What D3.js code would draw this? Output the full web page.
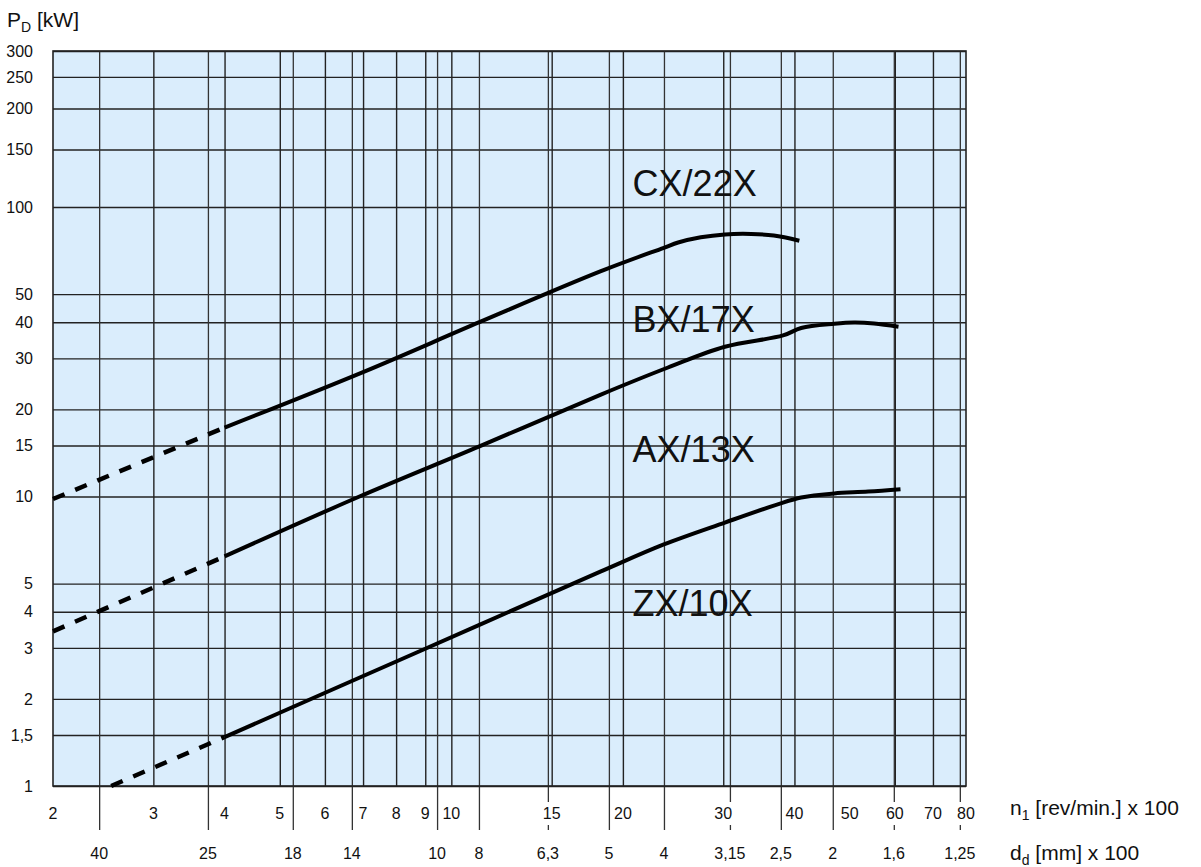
<!DOCTYPE html>
<html>
<head>
<meta charset="utf-8">
<script src="https://cdn.jsdelivr.net/npm/d3@7"></script>
<style>
  body { margin: 0; background: #fff; }
  text { font-family: "Liberation Sans", Arial, sans-serif; fill: #111; }
  .grid line { stroke: #222; stroke-width: 1.4; }
  .dgrid line { stroke: #333; stroke-width: 1.3; }
</style>
</head>
<body>
<div id="chart"></div>
<script>
// tick values
let pTicks = [300, 250, 200, 150, 100, 50, 40, 30, 20, 15, 10, 5, 4, 3, 2, 1.5, 1];
let nTicks = [2, 3, 4, 5, 6, 7, 8, 9, 10, 15, 20, 30, 40, 50, 60, 70, 80];
let nGrid = [3, 4, 5, 6, 7, 8, 9, 10, 15, 20, 30, 40, 60, 70];
// pulley diameter ticks and the n1 value each one sits at
let dLabels = ["40", "25", "18", "14", "10", "8", "6,3", "5", "4", "3,15", "2,5", "2", "1,6", "1,25"];
let dAtN = [2.41, 3.74, 5.27, 6.69, 9.44, 11.18, 14.77, 18.9, 23.61, 30.82, 37.86, 46.7, 59.76, 78.03];

// curves as [n1, P]
let cxDash = [[2, 9.8], [4, 17.3]];
let cxLine = [[4, 17.3], [7, 26.9], [11.2, 40], [18.3, 60], [23.6, 72.3], [25.0, 75.4], [27.4, 78.6],
              [30.2, 80.4], [33.6, 80.7], [36.8, 79.7], [40.8, 76.5]];
let bxDash = [[2, 3.42], [4, 6.21]];
let bxLine = [[4, 6.21], [6.9, 10.0], [11.2, 14.9], [18.3, 22.5], [24.0, 27.9], [30.2, 32.9], [38.2, 36.0],
              [41.1, 38.2], [47.0, 39.5], [50.9, 39.9], [55.2, 39.6], [60.9, 38.6]];
let axDash = [[2.53, 1.0], [4, 1.476]];
let axLine = [[4, 1.476], [9.0, 2.98], [18.3, 5.51], [23.6, 6.83], [30.2, 8.13], [38.2, 9.53], [41.1, 9.92],
              [43.3, 10.08], [47.0, 10.25], [53.9, 10.4], [61.4, 10.6]];

let curveNames = ["CX/22X", "BX/17X", "AX/13X", "ZX/10X"];
let nameAt = [[20.8, 108], [20.8, 37], [20.8, 13.2], [20.8, 3.87]];

let svgWidth = 1201;
let svgHeight = 867;
let margins = { top: 51, right: 235, bottom: 81, left: 53 };
let width = svgWidth - margins.left - margins.right;
let height = svgHeight - margins.top - margins.bottom;

let svg = d3.select("#chart")
    .append("svg")
    .attr("width", svgWidth)
    .attr("height", svgHeight);

let chartGroup = svg.append("g")
    .attr("transform", `translate(${margins.left}, ${margins.top})`);

let xScale = d3.scaleLog().domain([2, 80]).range([0, width]);
// the top decade of the printed grid is drawn a bit stretched
let yScale = d3.scaleLog().domain([1, 100, 300]).range([height, 156, 0]);

let comma = v => String(v).replace(".", ",");

chartGroup.append("rect")
    .attr("width", width)
    .attr("height", height)
    .attr("fill", "#daedfc");

// horizontal grid
chartGroup.append("g")
    .attr("class", "grid")
    .call(d3.axisLeft(yScale).tickValues(pTicks).tickSize(-width).tickFormat(""))
    .call(g => g.select(".domain").remove());

// vertical n1 grid
chartGroup.append("g")
    .attr("class", "grid")
    .call(d3.axisBottom(xScale).tickValues(nGrid).tickSize(height).tickFormat(""))
    .call(g => g.select(".domain").remove());

// d_d lines run through the plot and down to the second scale
chartGroup.append("g")
    .attr("class", "dgrid")
    .call(d3.axisBottom(xScale).tickValues(dAtN).tickSize(height + 44).tickFormat(""))
    .call(g => g.select(".domain").remove());

chartGroup.append("rect")
    .attr("width", width)
    .attr("height", height)
    .attr("fill", "none")
    .attr("stroke", "#222")
    .attr("stroke-width", 1.6);

// y labels
chartGroup.selectAll(".ylab")
    .data(pTicks)
    .enter()
    .append("text")
    .attr("x", -20)
    .attr("y", d => yScale(d))
    .attr("dy", "0.36em")
    .attr("text-anchor", "end")
    .style("font-size", "16px")
    .text(d => comma(d));

// n1 labels with a white box that hides the d_d lines
let nLab = chartGroup.selectAll(".nlab")
    .data(nTicks)
    .enter()
    .append("g");
nLab.append("rect").attr("fill", "#fff");
nLab.append("text")
    .attr("x", d => xScale(d))
    .attr("y", height + 33)
    .attr("text-anchor", "middle")
    .style("font-size", "16px")
    .text(d => d);
nLab.each(function() {
    let b = d3.select(this).select("text").node().getBBox();
    d3.select(this).select("rect")
        .attr("x", b.x - 1).attr("y", height + 16)
        .attr("width", b.width + 2).attr("height", 23);
});

// d_d labels
chartGroup.selectAll(".dlab")
    .data(dLabels)
    .enter()
    .append("text")
    .attr("x", (d, i) => xScale(dAtN[i]))
    .attr("y", height + 73)
    .attr("text-anchor", "middle")
    .style("font-size", "16px")
    .text(d => d);

// axis titles
let pTitle = chartGroup.append("text")
    .attr("x", -46)
    .attr("y", -24)
    .style("font-size", "21px");
pTitle.append("tspan").text("P");
pTitle.append("tspan").attr("dy", 5).style("font-size", "14px").text("D");
pTitle.append("tspan").attr("dy", -5).text(" [kW]");

let nTitle = chartGroup.append("text")
    .attr("x", width + 44)
    .attr("y", height + 29)
    .style("font-size", "21px");
nTitle.append("tspan").text("n");
nTitle.append("tspan").attr("dy", 5).style("font-size", "14px").text("1");
nTitle.append("tspan").attr("dy", -5).text(" [rev/min.] x 100");

let dTitle = chartGroup.append("text")
    .attr("x", width + 44)
    .attr("y", height + 74)
    .style("font-size", "21px");
dTitle.append("tspan").text("d");
dTitle.append("tspan").attr("dy", 5).style("font-size", "14px").text("d");
dTitle.append("tspan").attr("dy", -5).text(" [mm] x 100");

// curves
let line = d3.line()
    .x(d => xScale(d[0]))
    .y(d => yScale(d[1]))
    .curve(d3.curveCatmullRom);

[cxDash, bxDash, axDash].forEach(function(pts) {
    chartGroup.append("path")
        .attr("d", line(pts))
        .attr("fill", "none")
        .attr("stroke", "#000")
        .attr("stroke-width", 4.5)
        .attr("stroke-dasharray", "12.5,11.5");
});

[cxLine, bxLine, axLine].forEach(function(pts) {
    chartGroup.append("path")
        .attr("d", line(pts))
        .attr("fill", "none")
        .attr("stroke", "#000")
        .attr("stroke-width", 4);
});

chartGroup.selectAll(".cname")
    .data(curveNames)
    .enter()
    .append("text")
    .attr("x", (d, i) => xScale(nameAt[i][0]))
    .attr("y", (d, i) => yScale(nameAt[i][1]))
    .style("font-size", "36px")
    .text(d => d);
</script>
</body>
</html>
